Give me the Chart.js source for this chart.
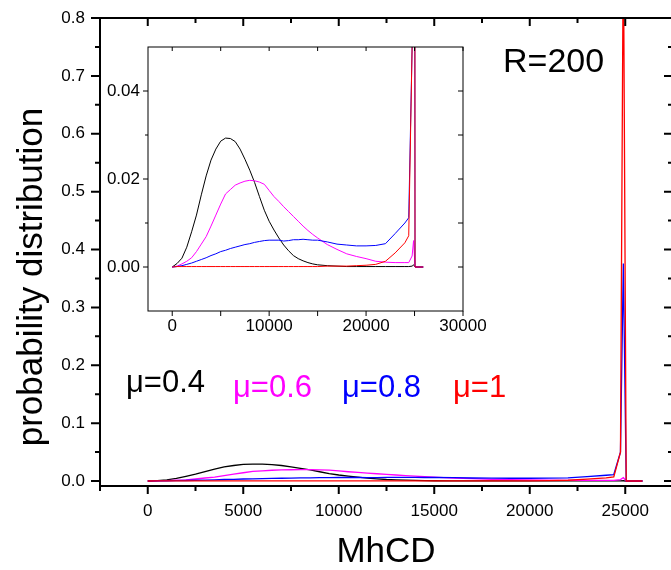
<!DOCTYPE html>
<html>
<head>
<meta charset="utf-8">
<script src="https://cdn.jsdelivr.net/npm/chart.js@4.4.0/dist/chart.umd.min.js"></script>
<style>
  html, body { margin: 0; padding: 0; background: #fff; overflow: hidden; }
  #wrap { position: relative; width: 671px; height: 570px; overflow: hidden; }
  #main { position: absolute; left: 0; top: 0; }
  #inset { position: absolute; left: 100px; top: 40px; }
</style>
</head>
<body>
<div id="wrap">
  <canvas id="main" width="680" height="570"></canvas>
  <canvas id="inset" width="400" height="300"></canvas>
</div>
<script>
// MhCD positions shared by every curve
const mhcd = [0, 500, 1000, 1500, 2000, 2500, 3000, 3500, 4000, 4500, 5000,
  5500, 6000, 6500, 7000, 7500, 8000, 8500, 9000, 9500, 10000,
  10500, 11000, 11500, 12000, 12500, 13000, 13500, 14000, 14500, 15000,
  16000, 17000, 18000, 19000, 20000, 21000, 22000, 23000, 24000,
  24400, 24750, 24900, 25050, 25900];

// probability distribution, one list per mu
const mu04 = [0, 0.0008, 0.0020, 0.0045, 0.0080, 0.0118, 0.0164, 0.0207, 0.0243, 0.0268, 0.0286,
  0.0293, 0.0292, 0.0285, 0.0268, 0.0245, 0.0220, 0.0192, 0.0160, 0.0129, 0.0104,
  0.0084, 0.0066, 0.0050, 0.0037, 0.0026, 0.0019, 0.0014, 0.0010, 0.0007, 0.0005,
  0.0003, 0.0002, 0.0001, 0.0001, 0.0001, 0.0001, 0.0001, 0.0001, 0.0001,
  0.0001, 0.0002, 0.0005, 0, 0];
const mu06 = [0, 0.0002, 0.0007, 0.0013, 0.0021, 0.0035, 0.0052, 0.0069, 0.0093, 0.0118, 0.0143,
  0.0166, 0.0176, 0.0186, 0.0191, 0.0195, 0.0197, 0.0196, 0.0193, 0.0188, 0.0174,
  0.0160, 0.0149, 0.0137, 0.0126, 0.0115, 0.0104, 0.0093, 0.0083, 0.0074, 0.0066,
  0.0051, 0.0040, 0.0030, 0.0024, 0.0019, 0.0013, 0.0011, 0.0010, 0.0010,
  0.0010, 0.0025, 0.0060, 0, 0];
const mu08 = [0, 0.0001, 0.0003, 0.0006, 0.0009, 0.0013, 0.0017, 0.0021, 0.0026, 0.0030, 0.0035,
  0.0038, 0.0042, 0.0045, 0.0048, 0.0051, 0.0053, 0.0056, 0.0058, 0.0060, 0.0061,
  0.0061, 0.0061, 0.0059, 0.0060, 0.0062, 0.0062, 0.0063, 0.0062, 0.0061, 0.0061,
  0.0057, 0.0052, 0.0050, 0.0048, 0.0048, 0.0049, 0.0053, 0.0076, 0.0100,
  0.0112, 0.0500, 0.3760, 0, 0];
const mu1 = [0, 0.0001, 0.0001, 0.0001, 0.0001, 0.0001, 0.0001, 0.0001, 0.0001, 0.0001, 0.0001,
  0.0001, 0.0001, 0.0001, 0.0001, 0.0001, 0.0001, 0.0001, 0.0001, 0.0001, 0.0001,
  0.0001, 0.0001, 0.0001, 0.0001, 0.0001, 0.0001, 0.0001, 0.0001, 0.0001, 0.0001,
  0.0002, 0.0002, 0.0002, 0.0003, 0.0004, 0.0006, 0.0013, 0.0032, 0.0055,
  0.0071, 0.0500, 0.9500, 0, 0];

const seriesNames = ['\u03bc=0.4', '\u03bc=0.6', '\u03bc=0.8', '\u03bc=1'];
const seriesValues = [mu04, mu06, mu08, mu1];
const seriesColors = ['#000000', '#ff00ff', '#0000ff', '#ff0000'];

// tick labels
const mainXTicks = [0, 5000, 10000, 15000, 20000, 25000];
const mainYTicks = [0, 0.1, 0.2, 0.3, 0.4, 0.5, 0.6, 0.7, 0.8];
const insetXTicks = [0, 10000, 20000, 30000];
const insetYTicks = [0, 0.02, 0.04];

const FONT = '"Liberation Sans", Arial, Helvetica, sans-serif';

function steps(from, to, step) {
  const out = [];
  for (let v = from; v <= to + step / 1000; v += step) out.push(Math.round(v * 1e6) / 1e6);
  return out;
}

function makeDatasets(width) {
  return seriesNames.map((name, i) => ({
    label: name,
    data: mhcd.map((x, j) => ({ x: x, y: seriesValues[i][j] })),
    borderColor: seriesColors[i],
    borderWidth: width,
    pointRadius: 0,
    tension: 0,
    fill: false,
    order: 4 - i
  }));
}

// box around the plot plus tick marks on all four sides
const framePlugin = {
  id: 'frame',
  afterDatasetsDraw(chart, args, opts) {
    const { ctx, chartArea: a, scales } = chart;
    ctx.save();
    ctx.strokeStyle = '#000';
    ctx.lineWidth = opts.width;
    ctx.strokeRect(a.left, a.top, a.right - a.left, a.bottom - a.top);
    ctx.beginPath();
    opts.ticks.forEach(t => {
      t.values.forEach(v => {
        if (t.side === 'bottom' || t.side === 'top') {
          const px = scales.x.getPixelForValue(v);
          const y0 = t.side === 'bottom' ? a.bottom : a.top;
          const dir = t.side === 'bottom' ? 1 : -1;
          ctx.moveTo(px, y0);
          ctx.lineTo(px, y0 + dir * t.len);
        } else {
          const py = scales.y.getPixelForValue(v);
          const x0 = t.side === 'left' ? a.left : a.right;
          const dir = t.side === 'left' ? -1 : 1;
          ctx.moveTo(x0, py);
          ctx.lineTo(x0 + dir * t.len, py);
        }
      });
    });
    ctx.stroke();
    ctx.restore();
  }
};

// free text: axis titles, legend words, R=200
const notesPlugin = {
  id: 'notes',
  afterDraw(chart, args, opts) {
    const ctx = chart.ctx;
    opts.items.forEach(n => {
      ctx.save();
      ctx.translate(n.x, n.y);
      if (n.rotate) ctx.rotate(n.rotate);
      ctx.font = n.size + 'px ' + FONT;
      ctx.fillStyle = n.color || '#000';
      ctx.textAlign = n.align || 'left';
      ctx.textBaseline = 'alphabetic';
      ctx.fillText(n.text, 0, 0);
      ctx.restore();
    });
  }
};

const tickFont = { family: FONT, size: 17 };

function fitX(h) {
  return s => { s.height = h; s.paddingLeft = 0; s.paddingRight = 0; };
}
function fitY(w) {
  return s => { s.width = w; s.paddingTop = 0; s.paddingBottom = 0; };
}

new Chart(document.getElementById('main'), {
  type: 'line',
  data: { datasets: makeDatasets(1.3) },
  plugins: [framePlugin, notesPlugin],
  options: {
    responsive: false,
    animation: false,
    layout: { padding: { top: 18, right: 7, left: 0, bottom: 0 } },
    plugins: {
      legend: { display: false },
      tooltip: { enabled: false },
      frame: {
        width: 2,
        ticks: [
          { side: 'bottom', values: steps(-2500, 27500, 5000), len: 5 },
          { side: 'bottom', values: steps(0, 25000, 5000), len: 8 },
          { side: 'top', values: steps(-2500, 27500, 5000), len: -5 },
          { side: 'top', values: steps(0, 25000, 5000), len: -8 },
          { side: 'left', values: steps(0.05, 0.75, 0.1), len: 5 },
          { side: 'left', values: steps(0, 0.8, 0.1), len: 9 },
          { side: 'right', values: steps(0.05, 0.75, 0.1), len: -5 },
          { side: 'right', values: steps(0, 0.8, 0.1), len: -9 }
        ]
      },
      notes: {
        items: [
          { text: 'probability distribution', x: 42, y: 277, size: 35, align: 'center', rotate: -Math.PI / 2 },
          { text: 'MhCD', x: 386, y: 562, size: 35, align: 'center' },
          { text: 'R=200', x: 503, y: 72, size: 34 },
          { text: seriesNames[0], x: 126, y: 392, size: 31, color: seriesColors[0] },
          { text: seriesNames[1], x: 233, y: 397, size: 31, color: seriesColors[1] },
          { text: seriesNames[2], x: 342, y: 397, size: 31, color: seriesColors[2] },
          { text: seriesNames[3], x: 453, y: 397, size: 31, color: seriesColors[3] }
        ]
      }
    },
    scales: {
      x: {
        type: 'linear', min: -2500, max: 27500,
        grid: { display: false, drawTicks: false },
        border: { display: false },
        afterBuildTicks: s => { s.ticks = mainXTicks.map(v => ({ value: v })); },
        afterFit: fitX(84),
        ticks: { padding: 15, color: '#000', font: tickFont, maxRotation: 0, autoSkip: false,
          callback: v => String(v) }
      },
      y: {
        type: 'linear', min: -0.0086, max: 0.8,
        grid: { display: false, drawTicks: false },
        border: { display: false },
        afterBuildTicks: s => { s.ticks = mainYTicks.map(v => ({ value: v })); },
        afterFit: fitY(100),
        ticks: { padding: 15, color: '#000', font: tickFont, autoSkip: false,
          callback: v => v.toFixed(1) }
      }
    }
  }
});

new Chart(document.getElementById('inset'), {
  type: 'line',
  data: { datasets: makeDatasets(1) },
  plugins: [framePlugin],
  options: {
    responsive: false,
    animation: false,
    layout: { padding: { top: 7, right: 37, left: 0, bottom: 0 } },
    plugins: {
      legend: { display: false },
      tooltip: { enabled: false },
      frame: {
        width: 1,
        ticks: [
          { side: 'bottom', values: steps(0, 30000, 5000), len: 5 },
          { side: 'top', values: steps(0, 30000, 5000), len: -4 },
          { side: 'left', values: steps(0.01, 0.03, 0.02), len: 3 },
          { side: 'left', values: steps(0, 0.04, 0.02), len: 5 },
          { side: 'right', values: steps(0, 0.04, 0.01), len: -5 }
        ]
      }
    },
    scales: {
      x: {
        type: 'linear', min: -2500, max: 30000,
        grid: { display: false, drawTicks: false },
        border: { display: false },
        afterBuildTicks: s => { s.ticks = insetXTicks.map(v => ({ value: v })); },
        afterFit: fitX(29),
        ticks: { padding: 5, color: '#000', font: tickFont, maxRotation: 0, autoSkip: false,
          callback: v => String(v) }
      },
      y: {
        type: 'linear', min: -0.01, max: 0.05,
        grid: { display: false, drawTicks: false },
        border: { display: false },
        afterBuildTicks: s => { s.ticks = insetYTicks.map(v => ({ value: v })); },
        afterFit: fitY(48),
        ticks: { padding: 8, color: '#000', font: tickFont, autoSkip: false,
          callback: v => v.toFixed(2) }
      }
    }
  }
});
</script>
</body>
</html>
